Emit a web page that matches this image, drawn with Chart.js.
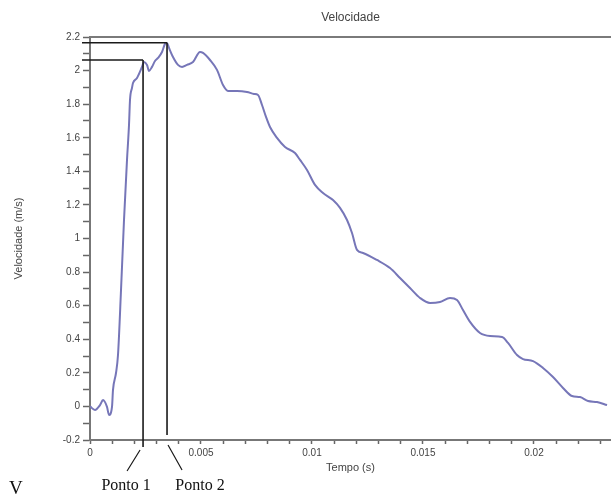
<!DOCTYPE html>
<html>
<head>
<meta charset="utf-8">
<script src="https://cdn.jsdelivr.net/npm/chart.js@4/dist/chart.umd.min.js"></script>
<style>
  html, body { margin: 0; padding: 0; background: #ffffff; }
  canvas { display: block; }
</style>
</head>
<body>
<canvas id="c" width="611" height="496"></canvas>
<script>
// ---- data ----
const tempo = [0, 0.000225, 0.00045, 0.000586, 0.000766, 0.000856, 0.000991, 0.001036, 0.001171, 0.001261,
  0.001397, 0.001532, 0.001667, 0.001757, 0.001802, 0.001892, 0.001937, 0.002117, 0.002343, 0.002433, 0.002568,
  0.002658, 0.002793, 0.002928, 0.003063, 0.003244, 0.003379, 0.003469, 0.003559, 0.003739, 0.003964,
  0.004145, 0.00437, 0.00464, 0.004956, 0.005091, 0.005406, 0.005721, 0.005992, 0.006217, 0.006622,
  0.007073, 0.007388, 0.007568, 0.007749, 0.007929, 0.008109, 0.008424, 0.008785, 0.009235, 0.009461,
  0.009776, 0.010136, 0.010497, 0.010947, 0.011263, 0.011578, 0.011803, 0.012028, 0.012299, 0.012929,
  0.013515, 0.013966, 0.014416, 0.014867, 0.015317, 0.015768, 0.016218, 0.016533, 0.016803, 0.017119,
  0.017569, 0.01802, 0.018561, 0.018831, 0.019236, 0.019507, 0.019957, 0.020408, 0.020858, 0.021309,
  0.021714, 0.022075, 0.022435, 0.02284, 0.023291];
const velocidade = [0.0, -0.021, 0.008, 0.038, -0.003, -0.051, -0.003, 0.098, 0.199, 0.306,
  0.693, 1.110, 1.468, 1.676, 1.825, 1.897, 1.926, 1.956, 2.022, 2.051, 2.033,
  1.998, 2.022, 2.057, 2.075, 2.111, 2.159, 2.165, 2.135, 2.081, 2.034,
  2.022, 2.034, 2.051, 2.111, 2.105, 2.063, 2.004, 1.914, 1.879, 1.879,
  1.873, 1.861, 1.855, 1.795, 1.724, 1.664, 1.599, 1.545, 1.509, 1.468,
  1.408, 1.319, 1.271, 1.229, 1.182, 1.110, 1.033, 0.932, 0.914, 0.872,
  0.824, 0.765, 0.705, 0.646, 0.616, 0.622, 0.646, 0.634, 0.574, 0.503,
  0.437, 0.419, 0.413, 0.378, 0.306, 0.282, 0.270, 0.229, 0.175, 0.110,
  0.062, 0.056, 0.032, 0.026, 0.008];

const xTickLabels = [0, 0.005, 0.01, 0.015, 0.02];
const yTickLabels = [-0.2, 0, 0.2, 0.4, 0.6, 0.8, 1, 1.2, 1.4, 1.6, 1.8, 2, 2.2];

const pontoNomes = ['Ponto 1', 'Ponto 2'];
const pontoTempo = [0.00239, 0.00347];
const pontoVel = [2.063, 2.166];

const tituloGrafico = 'Velocidade';
const tituloX = 'Tempo (s)';
const tituloY = 'Velocidade (m/s)';

// ---- chart ----
const X_MIN = 0, X_MAX = 0.02347, Y_MIN = -0.2, Y_MAX = 2.2;

const pontos = tempo.map((t, i) => ({ x: t, y: velocidade[i] }));

const isMajorX = v => xTickLabels.some(m => Math.abs(m - v) < 1e-7);
const isMajorY = v => yTickLabels.some(m => Math.abs(m - v) < 1e-7);

const annotPlugin = {
  id: 'annot',
  afterDraw(chart) {
    const ctx = chart.ctx;
    const xs = chart.scales.x, ys = chart.scales.y;
    const area = chart.chartArea;
    ctx.save();
    // top frame line
    ctx.strokeStyle = '#7a7a7a';
    ctx.lineWidth = 2;
    ctx.beginPath();
    ctx.moveTo(area.left, area.top);
    ctx.lineTo(area.right, area.top);
    ctx.stroke();

    // Ponto lines
    ctx.strokeStyle = '#1a1a1a';
    ctx.lineWidth = 1.6;
    const bottoms = [area.bottom + 7, area.bottom - 5];
    pontoTempo.forEach((t, i) => {
      const px = xs.getPixelForValue(t);
      const py = ys.getPixelForValue(pontoVel[i]);
      ctx.beginPath();
      ctx.moveTo(area.left - 8, py);
      ctx.lineTo(px, py);
      ctx.moveTo(px, py);
      ctx.lineTo(px, bottoms[i]);
      ctx.stroke();
    });

    // leader lines + labels
    ctx.lineWidth = 1.2;
    const p1 = xs.getPixelForValue(pontoTempo[0]);
    const p2 = xs.getPixelForValue(pontoTempo[1]);
    ctx.beginPath();
    ctx.moveTo(p1 - 3, area.bottom + 10);
    ctx.lineTo(p1 - 16, area.bottom + 31);
    ctx.moveTo(p2 + 1, area.bottom + 5);
    ctx.lineTo(p2 + 15, area.bottom + 30);
    ctx.stroke();

    ctx.fillStyle = '#111';
    ctx.font = '16px "Liberation Serif", "DejaVu Serif", serif';
    ctx.textAlign = 'center';
    ctx.textBaseline = 'alphabetic';
    ctx.fillText(pontoNomes[0], p1 - 17, area.bottom + 50);
    ctx.fillText(pontoNomes[1], p2 + 33, area.bottom + 50);

    // stray letter at lower-left of the source image
    ctx.font = '19px "Liberation Serif", "DejaVu Serif", serif';
    ctx.textAlign = 'left';
    ctx.fillText('V', 9, area.bottom + 54);
    ctx.restore();
  }
};

new Chart(document.getElementById('c'), {
  type: 'line',
  data: {
    datasets: [{
      label: tituloY,
      data: pontos,
      borderColor: '#7676b8',
      borderWidth: 2,
      pointRadius: 0,
      cubicInterpolationMode: 'monotone',
      fill: false
    }]
  },
  options: {
    responsive: false,
    animation: false,
    devicePixelRatio: 1,
    layout: { padding: { left: 0, right: 0, top: 0, bottom: 0 } },
    plugins: {
      legend: { display: false },
      tooltip: { enabled: false },
      title: {
        display: true,
        text: tituloGrafico,
        fullSize: false,
        color: '#444',
        font: { family: '"Liberation Sans", Arial, sans-serif', size: 12, weight: 'normal' },
        padding: { top: 10, bottom: 12.6 }
      }
    },
    scales: {
      x: {
        type: 'linear',
        min: X_MIN,
        max: X_MAX,
        afterBuildTicks(scale) {
          const t = [];
          for (let i = 0; i <= 23; i++) t.push({ value: i / 1000 });
          scale.ticks = t;
        },
        afterFit(scale) { scale.height = 56; },
        ticks: {
          autoSkip: false,
          maxRotation: 0,
          padding: 3,
          color: '#444',
          font: { family: '"Liberation Sans", Arial, sans-serif', size: 10 },
          callback: v => isMajorX(v) ? String(parseFloat(v.toFixed(3))) : ''
        },
        grid: {
          drawOnChartArea: false,
          drawTicks: true,
          tickLength: 4,
          tickColor: '#666',
          tickWidth: 1.5
        },
        border: { display: true, color: '#777', width: 2 },
        title: {
          display: true,
          text: tituloX,
          color: '#444',
          font: { family: '"Liberation Sans", Arial, sans-serif', size: 11 },
          padding: { top: 1, bottom: 21 }
        }
      },
      y: {
        type: 'linear',
        min: Y_MIN,
        max: Y_MAX,
        afterBuildTicks(scale) {
          const t = [];
          for (let i = -2; i <= 22; i++) t.push({ value: i / 10 });
          scale.ticks = t;
        },
        afterFit(scale) { scale.width = 90; },
        ticks: {
          autoSkip: false,
          padding: 3,
          color: '#444',
          font: { family: '"Liberation Sans", Arial, sans-serif', size: 10 },
          callback: v => isMajorY(v) ? String(parseFloat(v.toFixed(1))) : ''
        },
        grid: {
          drawOnChartArea: false,
          drawTicks: true,
          tickLength: 7,
          tickColor: '#666',
          tickWidth: 1.5
        },
        border: { display: true, color: '#777', width: 2 },
        title: {
          display: true,
          text: tituloY,
          color: '#444',
          font: { family: '"Liberation Sans", Arial, sans-serif', size: 11 },
          padding: { top: 12, bottom: 0 }
        }
      }
    }
  },
  plugins: [annotPlugin]
});
</script>
</body>
</html>
